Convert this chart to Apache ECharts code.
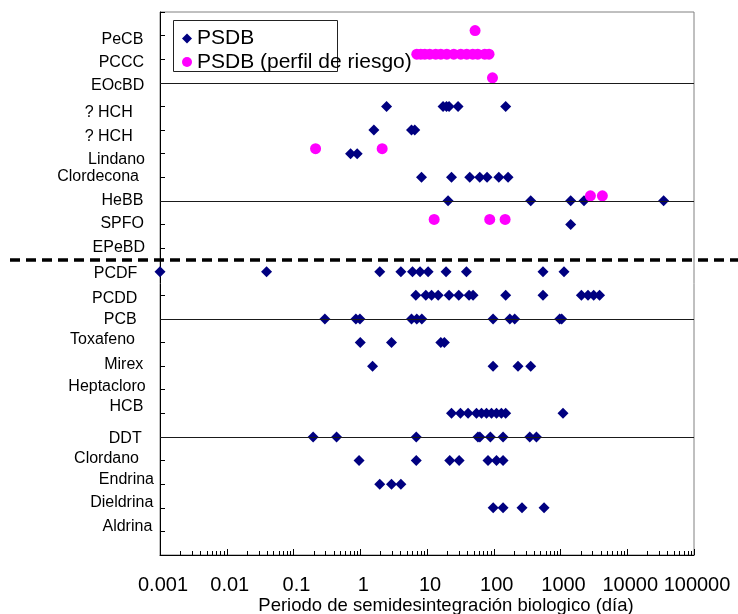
<!DOCTYPE html>
<html><head><meta charset="utf-8">
<script src="https://cdn.jsdelivr.net/npm/echarts@6/dist/echarts.min.js"></script>
<style>html,body{margin:0;padding:0;background:#fff}#c{width:738px;height:614px}</style>
</head><body><div id="c"></div>
<script>
const FONT = '"Liberation Sans", Arial, sans-serif';

// y categories, index = axis value (0 and 23 are empty ends)
const yCategories = ['', 'Aldrina', 'Dieldrina', 'Endrina', 'Clordano', 'DDT', 'HCB', 'Heptacloro',
  'Mirex', 'Toxafeno', 'PCB', 'PCDD', 'PCDF', 'EPeBD', 'SPFO', 'HeBB', 'Clordecona', 'Lindano',
  '? HCH', '? HCH', 'EOcBD', 'PCCC', 'PeCB'];
const xTickLabels = ['0.001', '0.01', '0.1', '1', '10', '100', '1000', '10000', '100000'];
const xTitle = 'Periodo de semidesintegración biologico (día)';
const legendNames = ['PSDB', 'PSDB (perfil de riesgo)'];
const gridLineValues = [5, 10, 15, 20];
const separatorValue = 12.5;

// PSDB values (days), one array per category
const psdbAldrina = [];
const psdbDieldrina = [98, 138, 265, 567];
const psdbEndrina = [1.96, 2.94, 4.06];
const psdbClordano = [0.96, 6.9, 21.9, 30.3, 82, 110, 138];
const psdbDDT = [0.197, 0.442, 6.9, 58, 62, 89, 138, 346, 436];
const psdbHCB = [23.3, 31.7, 41.2, 55.1, 65.5, 77.8, 92.5, 110, 130, 151, 1090];
const psdbHeptacloro = [];
const psdbMirex = [1.53, 97.7, 231, 358];
const psdbToxafeno = [1.0, 2.94, 16.1, 18.2];
const psdbPCB = [0.295, 0.86, 0.99, 5.86, 7.03, 8.36, 97.7, 174, 206, 973, 1042];
const psdbPCDD = [6.8, 9.6, 11.7, 14.7, 21.4, 29.9, 42.7, 49, 151, 547, 2055, 2580, 3140, 3850];
const psdbPCDF = [0.001, 0.0395, 1.96, 4.06, 6.07, 7.88, 10.4, 19.3, 39, 547, 1128];
const psdbEPeBD = [];
const psdbSPFO = [1420];
const psdbHeBB = [20.7, 358, 1422, 2250, 35100];
const psdbClordecona = [8.28, 23.3, 43.7, 61.7, 79.4, 119, 164];
const psdbLindano = [0.716, 0.899];
const psdbHCHb = [1.6, 5.86, 6.56];
const psdbHCHa = [2.48, 17.4, 19.6, 21.4, 29.2, 151];
const psdbEOcBD = [];
const psdbPCCC = [];
const psdbPeCB = [];

// PSDB (perfil de riesgo) values (days)
const riesgoLindano = [0.214, 2.13];
const riesgoSPFO = [12.8, 87, 148];
const riesgoHeBB = [2805, 4240];
const riesgoEOcBD = [95.7];
const riesgoPCCC = [7.03, 8.07, 9.27, 11.0, 13.5, 16.1, 19.8, 25.2, 32.1, 39.4, 48.5, 57.6, 73.3, 85];
const riesgoPeCB = [52.5];

const psdbByRow = [null, psdbAldrina, psdbDieldrina, psdbEndrina, psdbClordano, psdbDDT, psdbHCB,
  psdbHeptacloro, psdbMirex, psdbToxafeno, psdbPCB, psdbPCDD, psdbPCDF, psdbEPeBD, psdbSPFO,
  psdbHeBB, psdbClordecona, psdbLindano, psdbHCHb, psdbHCHa, psdbEOcBD, psdbPCCC, psdbPeCB];
const riesgoByRow = [[17, riesgoLindano], [14, riesgoSPFO], [15, riesgoHeBB], [20, riesgoEOcBD],
  [21, riesgoPCCC], [22, riesgoPeCB]];

const psdbData = [];
psdbByRow.forEach((arr, row) => { if (arr) arr.forEach(v => psdbData.push([v, row])); });
const riesgoData = [];
riesgoByRow.forEach(([row, arr]) => arr.forEach(v => riesgoData.push([v, row])));

// label fine placement (style only): [right padding, vertical shift px]
const labelAdjust = [null, [1.7, -4.7], [0.7, -5], [0, -4.2], [15, -2.3], [12.3, 1.4], [10.7, -6.6],
  [8.3, -3], [10.7, -2], [19, -2.5], [17.3, 1], [16.7, 3.7], [16.7, 2.3], [9, -0.8], [10, -0.5],
  [10.7, 0], [15, -0.5], [9, 5.7], [21.3, 6.7], [21.3, 6.3], [9.7, 3.2], [10, 3.5], [10.7, 3.7]];
const rich = {};
labelAdjust.forEach((a, i) => {
  if (!a) return;
  const dy = a[1];
  rich['l' + i] = {
    fontSize: 16, fontFamily: FONT, color: '#000',
    padding: [dy > 0 ? 2 * dy : 0, a[0], dy < 0 ? -2 * dy : 0, 0]
  };
});

const chart = echarts.init(document.getElementById('c'), null, { renderer: 'canvas' });
const option = {
  animation: false,
  textStyle: { fontFamily: FONT },
  grid: { left: 160, top: 12, right: 44, bottom: 59, show: true, borderColor: '#808080', borderWidth: 1,
    containLabel: false, outerBoundsMode: 'none' },
  legend: {
    data: legendNames, orient: 'vertical', left: 182, top: 28, padding: 0, itemGap: 2.5,
    itemWidth: 10, itemHeight: 10,
    textStyle: { fontSize: 21, color: '#000', fontFamily: FONT }
  },
  xAxis: {
    type: 'log', logBase: 10, min: 0.001, max: 100000, splitNumber: 8,
    axisLine: { show: true, onZero: false, lineStyle: { color: '#000', width: 1 } },
    axisTick: { show: true, inside: true, length: 6, lineStyle: { color: '#000' } },
    splitLine: { show: false },
    axisLabel: {
      margin: 20, fontSize: 20, color: '#000', fontFamily: FONT, padding: [0, 0, 0, 6],
      formatter: v => { const s = xTickLabels[Math.round(Math.log10(v)) + 3]; return s === undefined ? '' : s; }
    },
    name: xTitle, nameLocation: 'middle', nameGap: 41, nameMoveOverlap: false,
    nameTextStyle: { fontSize: 18.5, color: '#000', fontFamily: FONT, padding: [0, 0, 0, 38] }
  },
  yAxis: {
    type: 'value', min: 0, max: 23, interval: 1,
    axisLine: { show: true, onZero: false, lineStyle: { color: '#000', width: 1 } },
    axisTick: { show: true, inside: true, length: 5, lineStyle: { color: '#000' } },
    splitLine: { show: false },
    axisLabel: {
      margin: 6, fontSize: 16, color: '#000', fontFamily: FONT, rich: rich,
      formatter: v => { const n = yCategories[v]; return n ? '{l' + v + '|' + n + '}' : ''; }
    }
  },
  series: [
    {
      name: legendNames[0], type: 'scatter', symbol: 'diamond', symbolSize: 11,
      itemStyle: { color: '#000080', opacity: 1 }, data: psdbData,
      markLine: {
        silent: true, symbol: ['none', 'none'], label: { show: false }, animation: false,
        lineStyle: { color: '#1a1a1a', width: 1, type: 'solid' },
        emphasis: { disabled: true },
        data: gridLineValues.map(v => ({ yAxis: v }))
      }
    },
    {
      name: legendNames[1], type: 'scatter', symbol: 'circle', symbolSize: 11, symbolOffset: [0, -5],
      itemStyle: { color: '#FF00FF', opacity: 1 }, data: riesgoData
    }
  ]
};
chart.setOption(option);

// decorations: minor log ticks, dashed separator, legend frame
const yb = chart.convertToPixel({ yAxisIndex: 0 }, 0);
const ySep = chart.convertToPixel({ yAxisIndex: 0 }, separatorValue);
const graphics = [];
for (let d = -3; d < 5; d++) {
  for (let k = 2; k <= 9; k++) {
    const x = Math.round(chart.convertToPixel({ xAxisIndex: 0 }, k * Math.pow(10, d))) + 0.5;
    graphics.push({ type: 'line', shape: { x1: x, y1: yb, x2: x, y2: yb - 4 }, style: { stroke: '#000', lineWidth: 1 }, z: 5 });
  }
}
graphics.push({ type: 'line', shape: { x1: 10, y1: ySep, x2: 738, y2: ySep },
  style: { stroke: '#000', lineWidth: 3.5, lineDash: [10, 6] }, z: 6 });
graphics.push({ type: 'rect', shape: { x: 173.5, y: 20.5, width: 164, height: 51 },
  style: { fill: '#fff', stroke: '#222', lineWidth: 1 }, z: 1 });
chart.setOption({ graphic: graphics });
</script></body></html>
